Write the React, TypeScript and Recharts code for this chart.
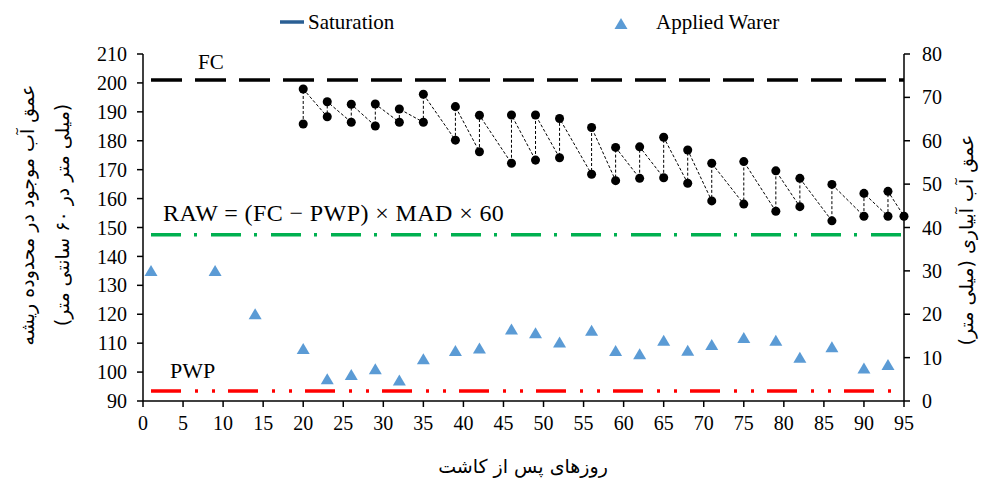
import React from "react";
import { ComposedChart, Scatter, XAxis, YAxis, ReferenceLine } from "recharts";

const dayTicks = [0, 5, 10, 15, 20, 25, 30, 35, 40, 45, 50, 55, 60, 65, 70, 75, 80, 85, 90, 95];
const depthTicks = [90, 100, 110, 120, 130, 140, 150, 160, 170, 180, 190, 200, 210];
const irrigationTicks = [0, 10, 20, 30, 40, 50, 60, 70, 80];

// soil water thresholds (mm)
const FC = 201;
const RAW = 147.5;
const PWP = 93.5;

// soil water before / after each irrigation event
const eventDays = [20, 23, 26, 29, 32, 35, 39, 42, 46, 49, 52, 56, 59, 62, 65, 68, 71, 75, 79, 82, 86, 90, 93];
const beforeIrrigation = [185.8, 188.3, 186.4, 185.1, 186.4, 186.4, 180.2, 176.2, 172.2, 173.3, 174.1, 168.4, 166.2, 167.0, 167.2, 165.3, 159.2, 158.1, 155.6, 157.2, 152.3, 153.9, 153.9];
const afterIrrigation = [197.9, 193.5, 192.6, 192.7, 191.0, 196.1, 191.8, 188.8, 188.9, 188.9, 187.7, 184.6, 177.7, 177.9, 181.2, 176.8, 172.2, 172.8, 169.6, 167.0, 164.9, 161.8, 162.5];
const finalDay = 95;
const finalDepth = 153.9;

// applied irrigation water (mm)
const appliedDays = [1, 9, 14, 20, 23, 26, 29, 32, 35, 39, 42, 46, 49, 52, 56, 59, 62, 65, 68, 71, 75, 79, 82, 86, 90, 93];
const appliedDepth = [30, 30, 20, 12, 5, 6, 7.3, 4.7, 9.6, 11.5, 12.1, 16.5, 15.6, 13.5, 16.2, 11.5, 10.8, 13.9, 11.6, 12.9, 14.5, 13.9, 10, 12.4, 7.5, 8.3];

const soilWater = [
  ...eventDays.flatMap((d, i) => [
    { x: d, y: beforeIrrigation[i] },
    { x: d, y: afterIrrigation[i] },
  ]),
  { x: finalDay, y: finalDepth },
];
const applied = appliedDays.map((d, i) => ({ x: d, y: appliedDepth[i] }));

const serif = "Liberation Serif, Times New Roman, serif";
const persian = "DejaVu Sans, sans-serif";
const tickStyle = { fill: "#000", fontSize: 20, fontFamily: serif };

const Triangle = (props: any) => {
  const { cx, cy } = props;
  return (
    <polygon
      points={`${cx},${cy - 6} ${cx + 6.5},${cy + 5} ${cx - 6.5},${cy + 5}`}
      fill="#5b9bd5"
    />
  );
};

const lineLabel =
  (text: string, dx: number, dy: number, size = 21, spacing = 0) =>
  (props: any) => {
    const vb = props.viewBox || {};
    return (
      <text
        x={(vb.x ?? 0) + dx}
        y={(vb.y ?? 0) + dy}
        style={{ fontSize: size, fontFamily: serif, letterSpacing: spacing }}
        fill="#000"
      >
        {text}
      </text>
    );
  };

export default function App() {
  return (
    <div
      style={{
        position: "absolute",
        left: 0,
        top: 0,
        width: 982,
        height: 479,
        background: "#fff",
        fontFamily: serif,
      }}
    >
      <ComposedChart width={982} height={479} margin={{ top: 54, right: 38, bottom: 48, left: 83 }}>
        <XAxis
          dataKey="x"
          type="number"
          domain={[0, 95]}
          ticks={dayTicks}
          interval={0}
          height={30}
          tick={tickStyle}
          tickSize={6}
          tickMargin={9}
          stroke="#000"
          strokeWidth={1.5}
        />
        <YAxis
          yAxisId="left"
          dataKey="y"
          type="number"
          domain={[90, 210]}
          ticks={depthTicks}
          interval={0}
          width={60}
          tick={tickStyle}
          tickSize={6}
          tickMargin={10}
          stroke="#000"
          strokeWidth={1.5}
        />
        <YAxis
          yAxisId="right"
          orientation="right"
          dataKey="y"
          type="number"
          domain={[0, 80]}
          ticks={irrigationTicks}
          interval={0}
          width={40}
          tick={tickStyle}
          tickSize={6}
          tickMargin={12}
          stroke="#000"
          strokeWidth={1.5}
        />
        <ReferenceLine
          yAxisId="left"
          segment={[{ x: 1, y: FC }, { x: 95, y: FC }]}
          stroke="#000"
          strokeWidth={3.5}
          strokeDasharray="31 13"
          label={lineLabel("FC", 47, -11)}
        />
        <ReferenceLine
          yAxisId="left"
          segment={[{ x: 1, y: RAW }, { x: 95, y: RAW }]}
          stroke="#00b050"
          strokeWidth={3.5}
          strokeDasharray="30 13 3 14"
          label={lineLabel("RAW = (FC − PWP) × MAD × 60", 12, -14, 24, 0.4)}
        />
        <ReferenceLine
          yAxisId="left"
          segment={[{ x: 1, y: PWP }, { x: 95, y: PWP }]}
          stroke="#ff0000"
          strokeWidth={3.5}
          strokeDasharray="30 14 3 14 3 13"
          label={lineLabel("PWP", 19, -13, 22)}
        />
        <Scatter
          yAxisId="right"
          data={applied}
          shape={<Triangle />}
          isAnimationActive={false}
        />
        <Scatter
          yAxisId="left"
          data={soilWater}
          fill="#000"
          shape="circle"
          line={{ stroke: "#000", strokeWidth: 1, strokeDasharray: "3 2" }}
          lineType="joint"
          isAnimationActive={false}
        />
      </ComposedChart>

      <svg
        width={982}
        height={479}
        style={{ position: "absolute", left: 0, top: 0, pointerEvents: "none" }}
      >
        {/* legend */}
        <line x1={280} x2={304} y1={22} y2={22} stroke="#2a5f94" strokeWidth={3.5} />
        <text x={308} y={29} style={{ fontSize: 21, fontFamily: serif }} fill="#000">
          Saturation
        </text>
        <polygon points="621,18 627.5,29 614.5,29" fill="#5b9bd5" />
        <text x={656} y={29} style={{ fontSize: 21, fontFamily: serif }} fill="#000">
          Applied Warer
        </text>

        {/* axis titles */}
        <text
          transform="translate(27,215) rotate(-90)"
          textAnchor="middle"
          dominantBaseline="central"
          direction="rtl"
          style={{ fontSize: 19, fontFamily: persian }}
          fill="#000"
        >
          عمق آب موجود در محدوده ریشه
        </text>
        <text
          transform="translate(62,215) rotate(-90)"
          textAnchor="middle"
          dominantBaseline="central"
          direction="rtl"
          style={{ fontSize: 19, fontFamily: persian }}
          fill="#000"
        >
          (میلی متر در ۶۰ سانتی متر)
        </text>
        <text
          transform="translate(966,240) rotate(-90)"
          textAnchor="middle"
          dominantBaseline="central"
          direction="rtl"
          style={{ fontSize: 19, fontFamily: persian }}
          fill="#000"
        >
          عمق آب آبیاری (میلی متر)
        </text>
        <text
          x={523}
          y={466}
          textAnchor="middle"
          dominantBaseline="central"
          direction="rtl"
          style={{ fontSize: 19, fontFamily: persian }}
          fill="#000"
        >
          روزهای پس از کاشت
        </text>
      </svg>
    </div>
  );
}
